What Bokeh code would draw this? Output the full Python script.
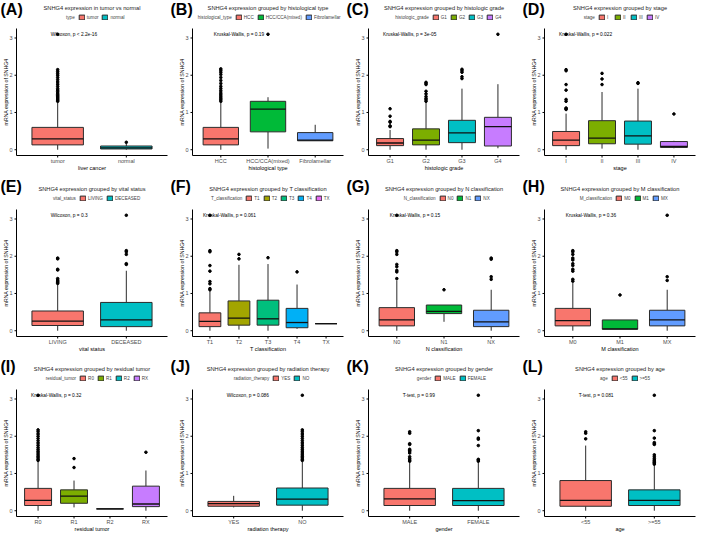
import math
from bokeh.plotting import figure
from bokeh.models import ColumnDataSource, Range1d, Legend, LegendItem
from bokeh.core.properties import value
from bokeh.embed import file_html
from bokeh.resources import INLINE

FONT = "Liberation Sans"
Y_LABEL = "mRNA expression of SNHG4"

# ---------------- data ----------------
A_title = "SNHG4 expression in tumor vs normal"
A_legend = "type"
A_xlabel = "liver cancer"
A_stat = "Wilcoxon, p < 2.2e-16"
A_cats = ["tumor", "normal"]
A_q1 = [0.13, 0.02]
A_med = [0.29, 0.05]
A_q3 = [0.60, 0.10]
A_lo = [0.0, 0.0]
A_hi = [1.31, 0.17]
A_out = [[1.30, 1.33, 1.36, 1.39, 1.42, 1.45, 1.48, 1.52, 1.56, 1.60, 1.64, 1.70, 1.76,
          1.82, 1.88, 1.94, 2.00, 2.05, 2.10, 2.15, 3.10], [0.20]]

B_title = "SNHG4 expression grouped by histological type"
B_legend = "histological_type"
B_xlabel = "histological type"
B_stat = "Kruskal-Wallis, p = 0.19"
B_cats = ["HCC", "HCC/CCA(mixed)", "Fibrolamellar"]
B_q1 = [0.13, 0.48, 0.24]
B_med = [0.29, 1.09, 0.26]
B_q3 = [0.60, 1.30, 0.46]
B_lo = [0.0, 0.03, 0.24]
B_hi = [1.28, 1.41, 0.67]
B_out = [[1.30, 1.34, 1.38, 1.42, 1.47, 1.52, 1.58, 1.64, 1.70, 1.78, 1.86, 1.94, 2.02,
          2.08, 2.13, 2.17], [3.10], []]

C_title = "SNHG4 expression grouped by histologic grade"
C_legend = "histologic_grade"
C_xlabel = "histologic grade"
C_stat = "Kruskal-Wallis, p = 3e-05"
C_cats = ["G1", "G2", "G3", "G4"]
C_q1 = [0.11, 0.13, 0.19, 0.10]
C_med = [0.18, 0.26, 0.45, 0.62]
C_q3 = [0.30, 0.56, 0.79, 0.87]
C_lo = [0.0, 0.0, 0.0, 0.04]
C_hi = [0.53, 1.26, 1.64, 1.76]
C_out = [[0.62, 0.64, 0.74, 0.76, 0.90, 1.10],
         [1.30, 1.34, 1.38, 1.43, 1.50, 1.57, 1.75, 1.78, 1.81],
         [1.91, 1.96, 2.08, 2.12, 2.16], [3.10]]

D_title = "SNHG4 expression grouped by stage"
D_legend = "stage"
D_xlabel = "stage"
D_stat = "Kruskal-Wallis, p = 0.022"
D_cats = ["I", "II", "III", "IV"]
D_q1 = [0.11, 0.16, 0.15, 0.06]
D_med = [0.26, 0.31, 0.37, 0.09]
D_q3 = [0.49, 0.78, 0.77, 0.22]
D_lo = [0.0, 0.03, 0.0, 0.04]
D_hi = [0.97, 1.55, 1.64, 0.24]
D_out = [[1.08, 1.10, 1.12, 1.30, 1.35, 1.60, 1.75, 2.12, 2.15, 3.10],
         [1.75, 1.90, 2.05], [1.78, 1.80], [0.96]]

E_title = "SNHG4 expression grouped by vital status"
E_legend = "vital_status"
E_xlabel = "vital status"
E_stat = "Wilcoxon, p = 0.3"
E_cats = ["LIVING", "DECEASED"]
E_q1 = [0.14, 0.11]
E_med = [0.26, 0.29]
E_q3 = [0.53, 0.76]
E_lo = [0.0, 0.0]
E_hi = [1.26, 1.61]
E_out = [[1.27, 1.30, 1.33, 1.36, 1.40, 1.63, 1.65, 1.93, 1.95],
         [1.78, 1.80, 2.05, 2.12, 2.15, 3.10]]

F_title = "SNHG4 expression grouped by T classification"
F_legend = "T_classification"
F_xlabel = "T classification"
F_stat = "Kruskal-Wallis, p = 0.061"
F_cats = ["T1", "T2", "T3", "T4", "TX"]
F_q1 = [0.11, 0.15, 0.15, 0.08, 0.19]
F_med = [0.25, 0.34, 0.32, 0.22, 0.19]
F_q3 = [0.48, 0.80, 0.82, 0.60, 0.19]
F_lo = [0.0, 0.03, 0.0, 0.05, 0.19]
F_hi = [1.08, 1.77, 1.79, 1.24, 0.19]
F_out = [[1.10, 1.13, 1.26, 1.32, 1.60, 1.75, 2.12, 2.15, 3.10],
         [1.93, 2.05], [1.96], [1.58], []]

G_title = "SNHG4 expression grouped by N classification"
G_legend = "N_classification"
G_xlabel = "N classification"
G_stat = "Kruskal-Wallis, p = 0.15"
G_cats = ["N0", "N1", "NX"]
G_q1 = [0.13, 0.46, 0.11]
G_med = [0.29, 0.52, 0.24]
G_q3 = [0.62, 0.69, 0.55]
G_lo = [0.0, 0.24, 0.0]
G_hi = [1.35, 0.69, 1.10]
G_out = [[1.40, 1.58, 1.62, 1.72, 1.78, 2.05, 2.12, 2.15, 3.10], [1.10],
         [1.38, 1.45, 1.92, 1.95]]

H_title = "SNHG4 expression grouped by M classification"
H_legend = "M_classification"
H_xlabel = "M classification"
H_stat = "Kruskal-Wallis, p = 0.36"
H_cats = ["M0", "M1", "MX"]
H_q1 = [0.13, 0.04, 0.13]
H_med = [0.27, 0.05, 0.29]
H_q3 = [0.60, 0.29, 0.55]
H_lo = [0.0, 0.04, 0.0]
H_hi = [1.28, 0.29, 1.10]
H_out = [[1.33, 1.38, 1.60, 1.65, 1.75, 1.80, 1.90, 1.95, 2.05, 2.12, 2.15], [0.96],
         [1.35, 1.45, 3.10]]

I_title = "SNHG4 expression grouped by residual tumor"
I_legend = "residual_tumor"
I_xlabel = "residual tumor"
I_stat = "Kruskal-Wallis, p = 0.32"
I_cats = ["R0", "R1", "R2", "RX"]
I_q1 = [0.14, 0.20, 0.05, 0.11]
I_med = [0.28, 0.39, 0.05, 0.18]
I_q3 = [0.60, 0.56, 0.05, 0.66]
I_lo = [0.0, 0.09, 0.05, 0.0]
I_hi = [1.32, 0.81, 0.05, 1.08]
I_out = [[1.35, 1.38, 1.42, 1.46, 1.50, 1.55, 1.60, 1.65, 1.70, 1.76, 1.82, 1.88, 1.94,
          2.00, 2.06, 2.12, 2.17, 3.10], [1.16, 1.40], [], [1.57]]

J_title = "SNHG4 expression grouped by radiation therapy"
J_legend = "radiation_therapy"
J_xlabel = "radiation therapy"
J_stat = "Wilcoxon, p = 0.086"
J_cats = ["YES", "NO"]
J_q1 = [0.12, 0.15]
J_med = [0.19, 0.31]
J_q3 = [0.25, 0.61]
J_lo = [0.09, 0.0]
J_hi = [0.40, 1.32]
J_out = [[], [1.35, 1.38, 1.42, 1.46, 1.50, 1.55, 1.60, 1.65, 1.70, 1.76, 1.82, 1.88,
              1.94, 2.00, 2.06, 2.12, 2.17, 3.10]]

K_title = "SNHG4 expression grouped by gender"
K_legend = "gender"
K_xlabel = "gender"
K_stat = "T-test, p = 0.99"
K_cats = ["MALE", "FEMALE"]
K_q1 = [0.14, 0.14]
K_med = [0.32, 0.27]
K_q3 = [0.60, 0.60]
K_lo = [0.0, 0.0]
K_hi = [1.32, 1.32]
K_out = [[1.33, 1.36, 1.40, 1.45, 1.55, 1.60, 1.62, 1.65, 1.78, 1.80, 2.08, 2.12],
         [1.33, 1.36, 1.38, 1.75, 1.92, 1.95, 2.15, 3.10]]

L_title = "SNHG4 expression grouped by age"
L_legend = "age"
L_xlabel = "age"
L_stat = "T-test, p = 0.081"
L_cats = ["<55", ">=55"]
L_q1 = [0.12, 0.14]
L_med = [0.28, 0.28]
L_q3 = [0.81, 0.56]
L_lo = [0.0, 0.0]
L_hi = [1.75, 1.23]
L_out = [[1.93, 2.08, 2.12],
         [1.25, 1.28, 1.30, 1.33, 1.36, 1.40, 1.45, 1.50, 1.78, 1.80, 1.83, 1.95, 2.15, 3.10]]

Y_TICKS = [0, 1, 2, 3]
Y_MIN, Y_MAX = -0.155, 3.255

# ---------------- layout / styling ----------------
HUES = {
    2: ["#F8766D", "#00BFC4"],
    3: ["#F8766D", "#00BA38", "#619CFF"],
    4: ["#F8766D", "#7CAE00", "#00BFC4", "#C77CFF"],
    5: ["#F8766D", "#A3A500", "#00BF7D", "#00B0F6", "#E76BF3"],
}
W, H = 704, 535
FL = [16, 192, 368, 544]      # frame left of each panel column (px)
FT = [28, 209, 389]           # frame top of each panel row (px)
FW, FH = 151, 127
EDGE = "#2b2b2b"
TXT = dict(text_font=value(FONT), text_color="black")

p = figure(width=W, height=H, x_range=Range1d(0, W), y_range=Range1d(H, 0),
           x_axis_type=None, y_axis_type=None, output_backend="svg",
           toolbar_location=None, min_border=0, outline_line_color=None,
           background_fill_color="white", border_fill_color="white")
p.xgrid.visible = False
p.ygrid.visible = False


def make_panel(k, letter, title, legend_title, xlabel, stat, cats, q1, med, q3, lo, hi, out):
    r, c = divmod(k, 4)
    fl, ft = FL[c], FT[r]
    n = len(cats)
    colors = HUES[n]
    xs = list(range(1, n + 1))

    # panel scales: categories at 1..n inside [0.4, n+0.6]; values inside [Y_MIN, Y_MAX]
    u = (n + 0.2) / FW
    kv = (Y_MAX - Y_MIN) / FH
    xn, yn = f"x{k}", f"y{k}"
    p.extra_x_ranges[xn] = Range1d(0.4 - fl * u, 0.4 + (W - fl) * u)
    p.extra_y_ranges[yn] = Range1d(Y_MAX - (H - ft) * kv, Y_MAX + ft * kv)
    R = dict(x_range_name=xn, y_range_name=yn)
    x0, x1 = 0.4, n + 0.6

    # axes
    p.segment(x0=[x0, x0], y0=[Y_MIN, Y_MIN], x1=[x0, x1], y1=[Y_MAX, Y_MIN],
              line_color="black", line_width=1, **R)
    p.segment(x0=[x0] * len(Y_TICKS), y0=Y_TICKS, x1=[x0 - 2 * u] * len(Y_TICKS),
              y1=Y_TICKS, line_color="black", line_width=1, **R)
    p.segment(x0=xs, y0=[Y_MIN] * n, x1=xs, y1=[Y_MIN - 2 * kv] * n,
              line_color="black", line_width=1, **R)
    p.text(x=[x0] * len(Y_TICKS), y=Y_TICKS, text=[str(t) for t in Y_TICKS], x_offset=-4,
           text_align="right", text_baseline="middle", text_font_size="5.5px",
           text_font=value(FONT), text_color="#4d4d4d", **R)
    p.text(x=xs, y=[Y_MIN] * n, text=cats, y_offset=5.5, text_align="center",
           text_baseline="middle", text_font_size="5.5px", text_font=value(FONT),
           text_color="#4d4d4d", **R)
    p.text(x=[(n + 1) / 2], y=[Y_MIN], text=[xlabel], y_offset=12, text_align="center",
           text_baseline="middle", text_font_size="5.5px", **TXT, **R)
    p.text(x=[x0], y=[(Y_MIN + Y_MAX) / 2], text=[Y_LABEL], x_offset=-11, angle=math.pi / 2,
           text_align="center", text_baseline="middle", text_font_size="5.2px", **TXT, **R)

    # boxplots
    src = ColumnDataSource(dict(x=xs, q1=q1, med=med, q3=q3, lo=lo, hi=hi, color=colors,
                                ml=[v - 0.375 for v in xs], mr=[v + 0.375 for v in xs]))
    p.segment(x0="x", y0="q3", x1="x", y1="hi", source=src, line_color=EDGE, line_width=1, **R)
    p.segment(x0="x", y0="lo", x1="x", y1="q1", source=src, line_color=EDGE, line_width=1, **R)
    boxes = p.vbar(x="x", top="q3", bottom="q1", width=0.75, source=src,
                   fill_color="color", line_color=EDGE, line_width=1, **R)
    p.segment(x0="ml", y0="med", x1="mr", y1="med", source=src,
              line_color="#111111", line_width=1.3, **R)

    ox, oy = [], []
    for xi, vals in zip(xs, out):
        ox += [xi] * len(vals)
        oy += list(vals)
    p.scatter(x=ox, y=oy, size=2.6, color="black", **R)

    p.text(x=[1], y=[3.1], text=[stat], x_offset=-7, text_align="left",
           text_baseline="middle", text_font_size="4.8px", **TXT, **R)

    # titles (page pixel coordinates)
    p.text(x=[fl + FW / 2], y=[ft - 21], text=[title], text_align="center",
           text_baseline="middle", text_font_size="5.7px", text_font=value(FONT),
           text_color="#222222")
    p.text(x=[max(0, fl - 22)], y=[max(0, ft - 32)], text=[f"({letter})"],
           text_align="left", text_baseline="top", text_font_size="16px",
           text_font_style="bold", **TXT)

    # legend
    fs = 4.6
    labels = [legend_title] + list(cats)
    est = sum(7 + 2 + max(4, 0.52 * fs * len(s)) for s in labels) + 3 * (len(labels) - 1)
    dummy = p.scatter(x=[], y=[], fill_alpha=0, line_alpha=0, **R)
    items = [LegendItem(label=legend_title, renderers=[dummy])]
    items += [LegendItem(label=cv, renderers=[boxes], index=i) for i, cv in enumerate(cats)]
    legend = Legend(items=items, orientation="horizontal",
                    location=(fl + FW / 2 - est / 2, H - (ft - 8)),
                    padding=0, margin=0, spacing=3, glyph_width=7, glyph_height=6,
                    label_standoff=2, label_height=6, label_width=4,
                    label_text_font=FONT, label_text_font_size=f"{fs}px",
                    border_line_alpha=0, background_fill_alpha=0)
    p.add_layout(legend)


panels = [
    ("A", A_title, A_legend, A_xlabel, A_stat, A_cats, A_q1, A_med, A_q3, A_lo, A_hi, A_out),
    ("B", B_title, B_legend, B_xlabel, B_stat, B_cats, B_q1, B_med, B_q3, B_lo, B_hi, B_out),
    ("C", C_title, C_legend, C_xlabel, C_stat, C_cats, C_q1, C_med, C_q3, C_lo, C_hi, C_out),
    ("D", D_title, D_legend, D_xlabel, D_stat, D_cats, D_q1, D_med, D_q3, D_lo, D_hi, D_out),
    ("E", E_title, E_legend, E_xlabel, E_stat, E_cats, E_q1, E_med, E_q3, E_lo, E_hi, E_out),
    ("F", F_title, F_legend, F_xlabel, F_stat, F_cats, F_q1, F_med, F_q3, F_lo, F_hi, F_out),
    ("G", G_title, G_legend, G_xlabel, G_stat, G_cats, G_q1, G_med, G_q3, G_lo, G_hi, G_out),
    ("H", H_title, H_legend, H_xlabel, H_stat, H_cats, H_q1, H_med, H_q3, H_lo, H_hi, H_out),
    ("I", I_title, I_legend, I_xlabel, I_stat, I_cats, I_q1, I_med, I_q3, I_lo, I_hi, I_out),
    ("J", J_title, J_legend, J_xlabel, J_stat, J_cats, J_q1, J_med, J_q3, J_lo, J_hi, J_out),
    ("K", K_title, K_legend, K_xlabel, K_stat, K_cats, K_q1, K_med, K_q3, K_lo, K_hi, K_out),
    ("L", L_title, L_legend, L_xlabel, L_stat, L_cats, L_q1, L_med, L_q3, L_lo, L_hi, L_out),
]

for k, args in enumerate(panels):
    make_panel(k, *args)

open("out.html", "w").write(file_html(p, INLINE))
